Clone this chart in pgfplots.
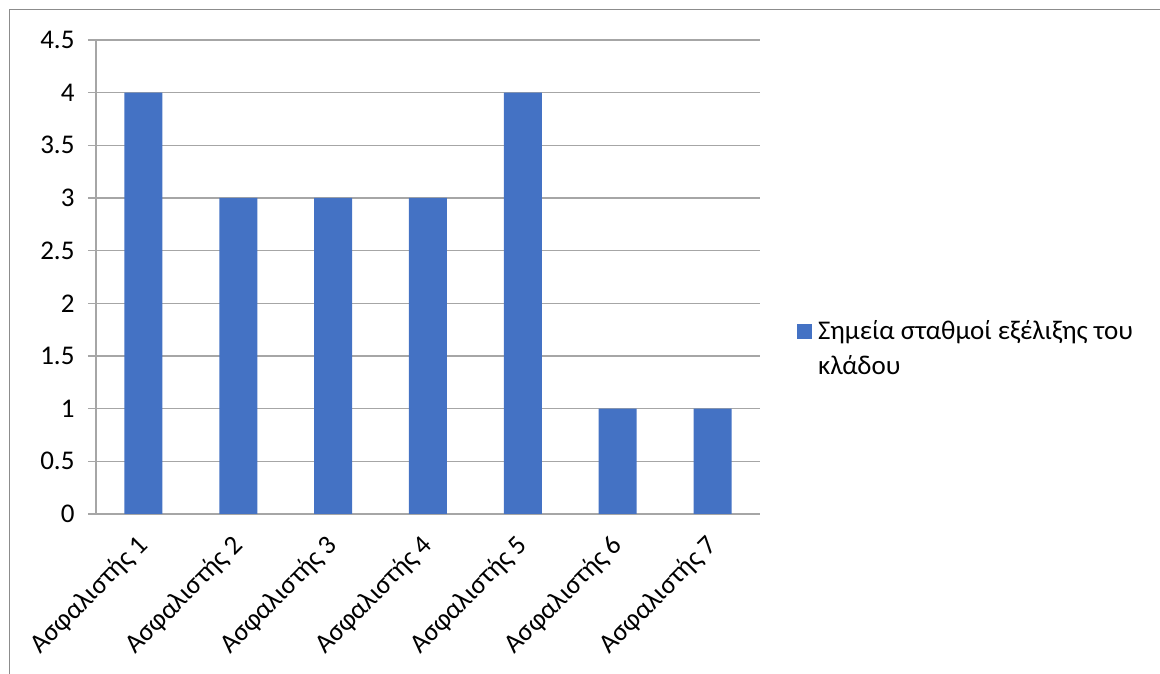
\documentclass[border=0pt]{standalone}
\usepackage{pgfplots}
\pgfplotsset{compat=1.18}
\usepackage{fontspec}
\setmainfont{Carlito}
\definecolor{barblue}{HTML}{4472C4}
\definecolor{gridgray}{HTML}{A6A6A6}
\definecolor{framegray}{HTML}{8C8C8C}
\begin{document}
\begin{tikzpicture}[x=1pt,y=1pt]
\useasboundingbox (0,0) rectangle (1160,674);
% chart area frame
\draw[framegray, line width=1.5pt] (9.5,0) -- (9.5,664.5) -- (1160,664.5);
\begin{axis}[
  at={(96pt,160pt)}, anchor=south west,
  scale only axis, width=664pt, height=474pt,
  xmin=-0.5, xmax=6.5, ymin=0, ymax=4.5,
  axis lines*=left,
  axis line style={gridgray, line width=1.3pt},
  ytick={0,0.5,1,1.5,2,2.5,3,3.5,4,4.5},
  ymajorgrids, grid style={gridgray, line width=1.3pt},
  tick align=outside,
  major tick length=8pt,
  ytick style={gridgray, line width=1.3pt},
  xtick={0,1,2,3,4,5,6},
  xtick style={draw=none},
  xticklabels={Ασφαλιστής 1,Ασφαλιστής 2,Ασφαλιστής 3,Ασφαλιστής 4,Ασφαλιστής 5,Ασφαλιστής 6,Ασφαλιστής 7},
  extra x ticks={-0.5,0.5,1.5,2.5,3.5,4.5,5.5,6.5},
  extra x tick labels={},
  extra x tick style={grid=none, tick style={draw=gridgray, line width=1.3pt}},
  /pgf/number format/assume math mode=true,
  ticklabel style={font=\fontsize{27}{32}\selectfont, text=black},
  yticklabel style={xshift=-10pt},
  xticklabel style={xshift=-8pt, yshift=-6pt, rotate=45, anchor=north east},
  legend style={at={(1.051,0.418)}, anchor=north west, draw=none,
    font=\fontsize{27}{35}\selectfont, cells={anchor=base west},
    /tikz/every odd column/.style={column sep=4pt}},
  legend image code/.code={\fill[barblue] (0pt,0pt) rectangle (15pt,15pt);},
]
\addplot[ybar, bar width=38pt, fill=barblue, draw=none]
  coordinates {(0,4) (1,3) (2,3) (3,3) (4,4) (5,1) (6,1)};
\addlegendentry{\parbox[t]{340pt}{Σημεία σταθμοί εξέλιξης του\\κλάδου}}
\end{axis}
\end{tikzpicture}
\end{document}
